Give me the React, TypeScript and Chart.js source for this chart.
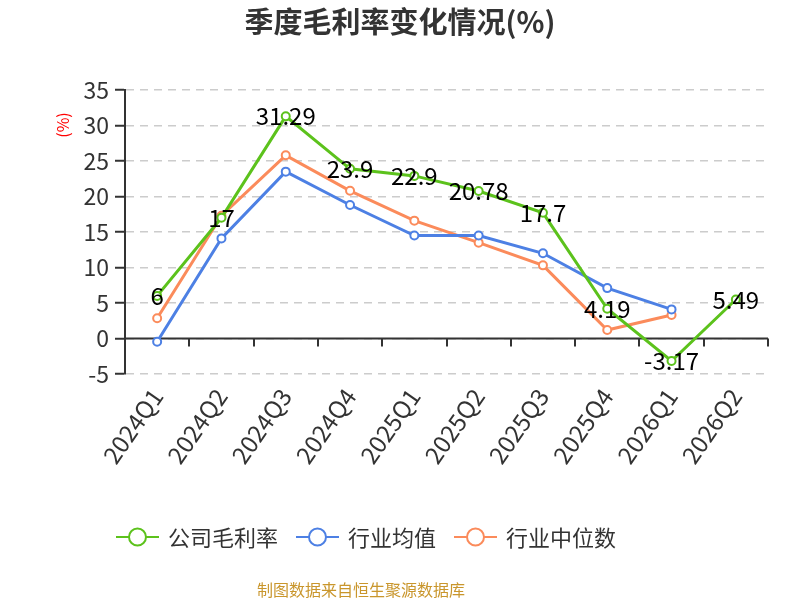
import React, { useEffect, useRef } from 'react';
import { Chart, registerables } from 'chart.js';

Chart.register(...registerables);

const categories = ['2024Q1', '2024Q2', '2024Q3', '2024Q4', '2025Q1', '2025Q2', '2025Q3', '2025Q4', '2026Q1', '2026Q2'];
const companyMargin = [6, 17, 31.29, 23.9, 22.9, 20.78, 17.7, 4.19, -3.17, 5.49];
const industryAvg = [-0.45, 14.1, 23.5, 18.8, 14.5, 14.5, 12.0, 7.1, 4.1, null];
const industryMedian = [2.85, 17.3, 25.8, 20.8, 16.6, 13.5, 10.3, 1.2, 3.3, null];
const seriesNames = ['公司毛利率', '行业均值', '行业中位数'];
const seriesColors = ['#5cc21c', '#4d80e4', '#fb8b5b'];
const yMin = -5;
const yMax = 35;
const yStep = 5;

const FONT = "'Noto Sans CJK SC', 'Noto Sans', sans-serif";

const decorPlugin = {
    id: 'decor',
    beforeDatasetsDraw(chart: any) {
        const { ctx, chartArea, scales } = chart;
        const y0 = scales.y.getPixelForValue(0);
        const n = chart.data.labels.length;
        const step = (chartArea.right - chartArea.left) / n;
        ctx.save();
        ctx.strokeStyle = '#333';
        ctx.lineWidth = 2;
        ctx.beginPath();
        ctx.moveTo(chartArea.left, y0);
        ctx.lineTo(chartArea.right, y0);
        for (let i = 1; i <= n; i++) {
            const x = Math.round(chartArea.left + i * step);
            ctx.moveTo(x, y0);
            ctx.lineTo(x, y0 + 8);
        }
        ctx.stroke();
        ctx.restore();
    },
    afterDatasetsDraw(chart: any) {
        const { ctx } = chart;
        const meta = chart.getDatasetMeta(0);
        ctx.save();
        ctx.font = `24px ${FONT}`;
        ctx.fillStyle = '#000';
        ctx.textAlign = 'center';
        ctx.textBaseline = 'middle';
        meta.data.forEach((pt: any, i: number) => {
            const v = chart.data.datasets[0].data[i];
            if (v === null || v === undefined) return;
            ctx.fillText(String(v), pt.x, pt.y);
        });
        ctx.restore();
    },
    afterDraw(chart: any) {
        const { ctx } = chart;
        ctx.save();
        // title
        ctx.font = `bold 29px ${FONT}`;
        ctx.fillStyle = '#333';
        ctx.textAlign = 'center';
        ctx.textBaseline = 'middle';
        ctx.fillText('季度毛利率变化情况(%)', 400, 22);

        // y axis name
        ctx.save();
        ctx.translate(63, 125);
        ctx.rotate(-Math.PI / 2);
        ctx.font = `16px ${FONT}`;
        ctx.fillStyle = '#ff0000';
        ctx.fillText('(%)', 0, 0);
        ctx.restore();

        // legend
        ctx.font = `22px ${FONT}`;
        const iconW = 43;
        const gapText = 9;
        const gapItem = 18;
        const widths = chart.data.datasets.map((d: any) => iconW + gapText + ctx.measureText(d.label).width);
        const total = widths.reduce((a: number, b: number) => a + b, 0) + gapItem * (widths.length - 1);
        let x = 366 - total / 2;
        const ly = 537;
        chart.data.datasets.forEach((d: any, i: number) => {
            ctx.strokeStyle = d.borderColor;
            ctx.lineWidth = 2;
            ctx.beginPath();
            ctx.moveTo(x, ly);
            ctx.lineTo(x + iconW, ly);
            ctx.stroke();
            ctx.beginPath();
            ctx.arc(x + iconW / 2, ly, 8.5, 0, Math.PI * 2);
            ctx.fillStyle = '#fff';
            ctx.fill();
            ctx.stroke();
            ctx.fillStyle = '#333';
            ctx.textAlign = 'left';
            ctx.fillText(d.label, x + iconW + gapText, ly + 1);
            x += widths[i] + gapItem;
        });

        // source
        ctx.font = `16px ${FONT}`;
        ctx.fillStyle = '#c9962c';
        ctx.textAlign = 'center';
        ctx.fillText('制图数据来自恒生聚源数据库', 361, 590);
        ctx.restore();
    },
};

const App: React.FC = () => {
    const chartRef = useRef<HTMLCanvasElement>(null);
    const chartInstance = useRef<Chart | null>(null);

    useEffect(() => {
        document.body.style.margin = '0';
        if (!chartRef.current) return;
        if (chartInstance.current) chartInstance.current.destroy();
        const ctx = chartRef.current.getContext('2d');
        if (!ctx) return;
        const series = [companyMargin, industryAvg, industryMedian];
        chartInstance.current = new Chart(ctx, {
            type: 'line',
            data: {
                labels: categories,
                datasets: series.map((data, i) => ({
                    label: seriesNames[i],
                    data,
                    borderColor: seriesColors[i],
                    backgroundColor: seriesColors[i],
                    borderWidth: 3,
                    pointRadius: 4,
                    pointBorderWidth: 2,
                    pointBackgroundColor: '#fff',
                    pointBorderColor: seriesColors[i],
                    tension: 0,
                    spanGaps: false,
                })),
            },
            options: {
                responsive: false,
                animation: false,
                layout: { padding: { top: 90, right: 32, left: 0, bottom: 82 } },
                scales: {
                    x: {
                        type: 'category',
                        offset: true,
                        grid: { display: false, drawTicks: false },
                        border: { display: false },
                        ticks: {
                            autoSkip: false,
                            minRotation: 55,
                            maxRotation: 55,
                            padding: 9,
                            color: '#333',
                            font: { family: FONT, size: 24 },
                        },
                        afterFit: (scale: any) => { scale.height = 144; },
                    },
                    y: {
                        min: yMin,
                        max: yMax,
                        ticks: {
                            stepSize: yStep,
                            padding: 6,
                            color: '#333',
                            font: { family: FONT, size: 23 },
                        },
                        grid: {
                            color: '#cccccc',
                            lineWidth: 1.5,
                            tickLength: 10,
                            tickColor: '#333',
                            tickWidth: 2,
                        },
                        border: { display: true, color: '#333', width: 2, dash: [8, 6] },
                        afterFit: (scale: any) => { scale.width = 125; },
                    },
                },
                plugins: {
                    legend: { display: false },
                    tooltip: { enabled: false },
                    title: { display: false },
                },
            },
            plugins: [decorPlugin],
        });
        return () => { chartInstance.current?.destroy(); };
    }, []);

    return (
        <div style={{ width: 800, height: 600, position: 'relative' }}>
            <canvas ref={chartRef} width={800} height={600}></canvas>
        </div>
    );
};

export default App;
